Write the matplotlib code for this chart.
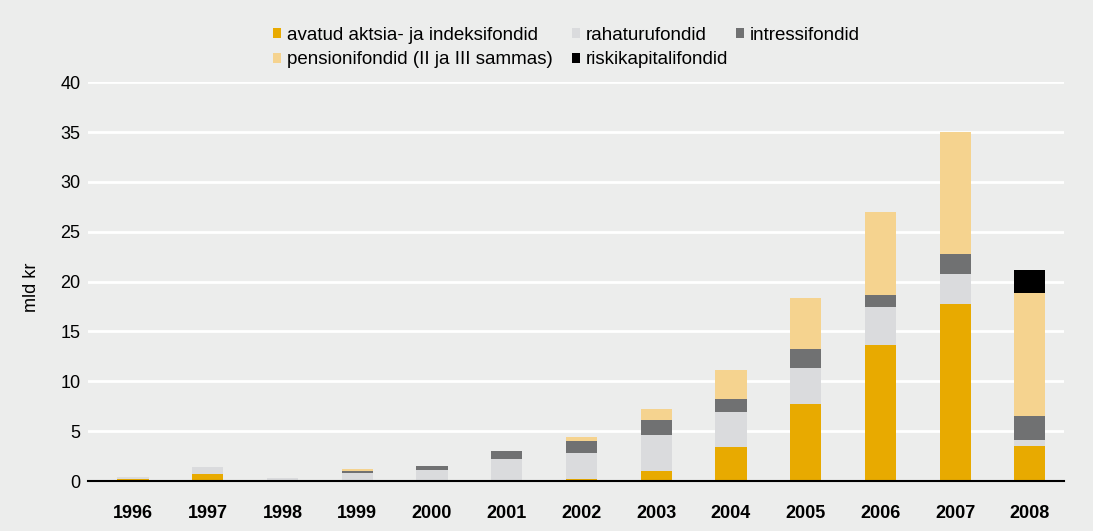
import matplotlib.pyplot as plt
from matplotlib.patches import Rectangle
import numpy as np

plt.rcParams['font.family'] = ['Liberation Sans', 'DejaVu Sans']

# andmed (mld kr)
aastad = ['1996', '1997', '1998', '1999', '2000', '2001', '2002',
          '2003', '2004', '2005', '2006', '2007', '2008']
aktsia = [0.2, 0.7, 0.0, 0.0, 0.1, 0.1, 0.2, 1.0, 3.4, 7.7, 13.6, 17.8, 3.5]
raha = [0.2, 0.7, 0.3, 0.8, 1.0, 2.1, 2.6, 3.6, 3.5, 3.6, 3.9, 3.0, 0.6]
intress = [0.0, 0.0, 0.0, 0.2, 0.4, 0.8, 1.2, 1.5, 1.3, 1.9, 1.2, 2.0, 2.4]
pension = [0.0, 0.0, 0.0, 0.2, 0.0, 0.0, 0.4, 1.1, 2.9, 5.2, 8.3, 12.2, 12.4]
riski = [0.0, 0.0, 0.0, 0.0, 0.0, 0.0, 0.0, 0.0, 0.0, 0.0, 0.0, 0.0, 2.3]

seeriad = [
    ('avatud aktsia- ja indeksifondid', aktsia, '#E8AA00'),
    ('rahaturufondid', raha, '#DADBDD'),
    ('intressifondid', intress, '#707172'),
    ('pensionifondid (II ja III sammas)', pension, '#F5D38F'),
    ('riskikapitalifondid', riski, '#000000'),
]

W, H = 1093, 531
taust = '#ECEDEC'
fig = plt.figure(figsize=(W / 100, H / 100), dpi=100, facecolor=taust)
ax = fig.add_axes([88 / W, 50 / H, 976 / W, 398.7 / H])
ax.set_facecolor(taust)

x = np.arange(len(aastad))
pohi = np.zeros(len(aastad))
for nimi, vaartused, varv in seeriad:
    v = np.array(vaartused)
    ax.bar(x, v, width=0.415, bottom=pohi, color=varv, label=nimi, zorder=3)
    pohi = pohi + v

ax.set_ylim(0, 40)
ax.set_xlim(-0.602, 12.455)
ax.set_yticks(range(0, 41, 5))
ax.set_xticks(x)
ax.set_xticklabels(aastad, fontweight='bold', fontsize=13)
ax.tick_params(axis='y', labelsize=13, length=0, pad=5.5)
ax.tick_params(axis='x', length=0, pad=17.5)
ax.yaxis.grid(True, color='white', linewidth=2, zorder=0)
for s in ['top', 'right', 'left']:
    ax.spines[s].set_visible(False)
ax.spines['bottom'].set_color('black')
ax.spines['bottom'].set_linewidth(1.5)
ax.spines['bottom'].set_zorder(4)
ax.set_ylabel('mld kr', fontsize=13)
ax.yaxis.set_label_coords(-0.049, 0.487)

# legend käsitsi, kaks rida nagu originaalis
legend_kohad = [(273, 33), (572, 33), (736, 33), (273, 58), (572, 58)]
for (nimi, _, varv), (lx, ly) in zip(seeriad, legend_kohad):
    fig.add_artist(Rectangle((lx / W, 1 - (ly + 5) / H), 8 / W, 10 / H,
                             transform=fig.transFigure, color=varv, lw=0))
    fig.text((lx + 14) / W, 1 - ly / H, nimi, fontsize=13.5,
             ha='left', va='center_baseline')

fig.savefig('out.png', dpi=100, facecolor=taust)
